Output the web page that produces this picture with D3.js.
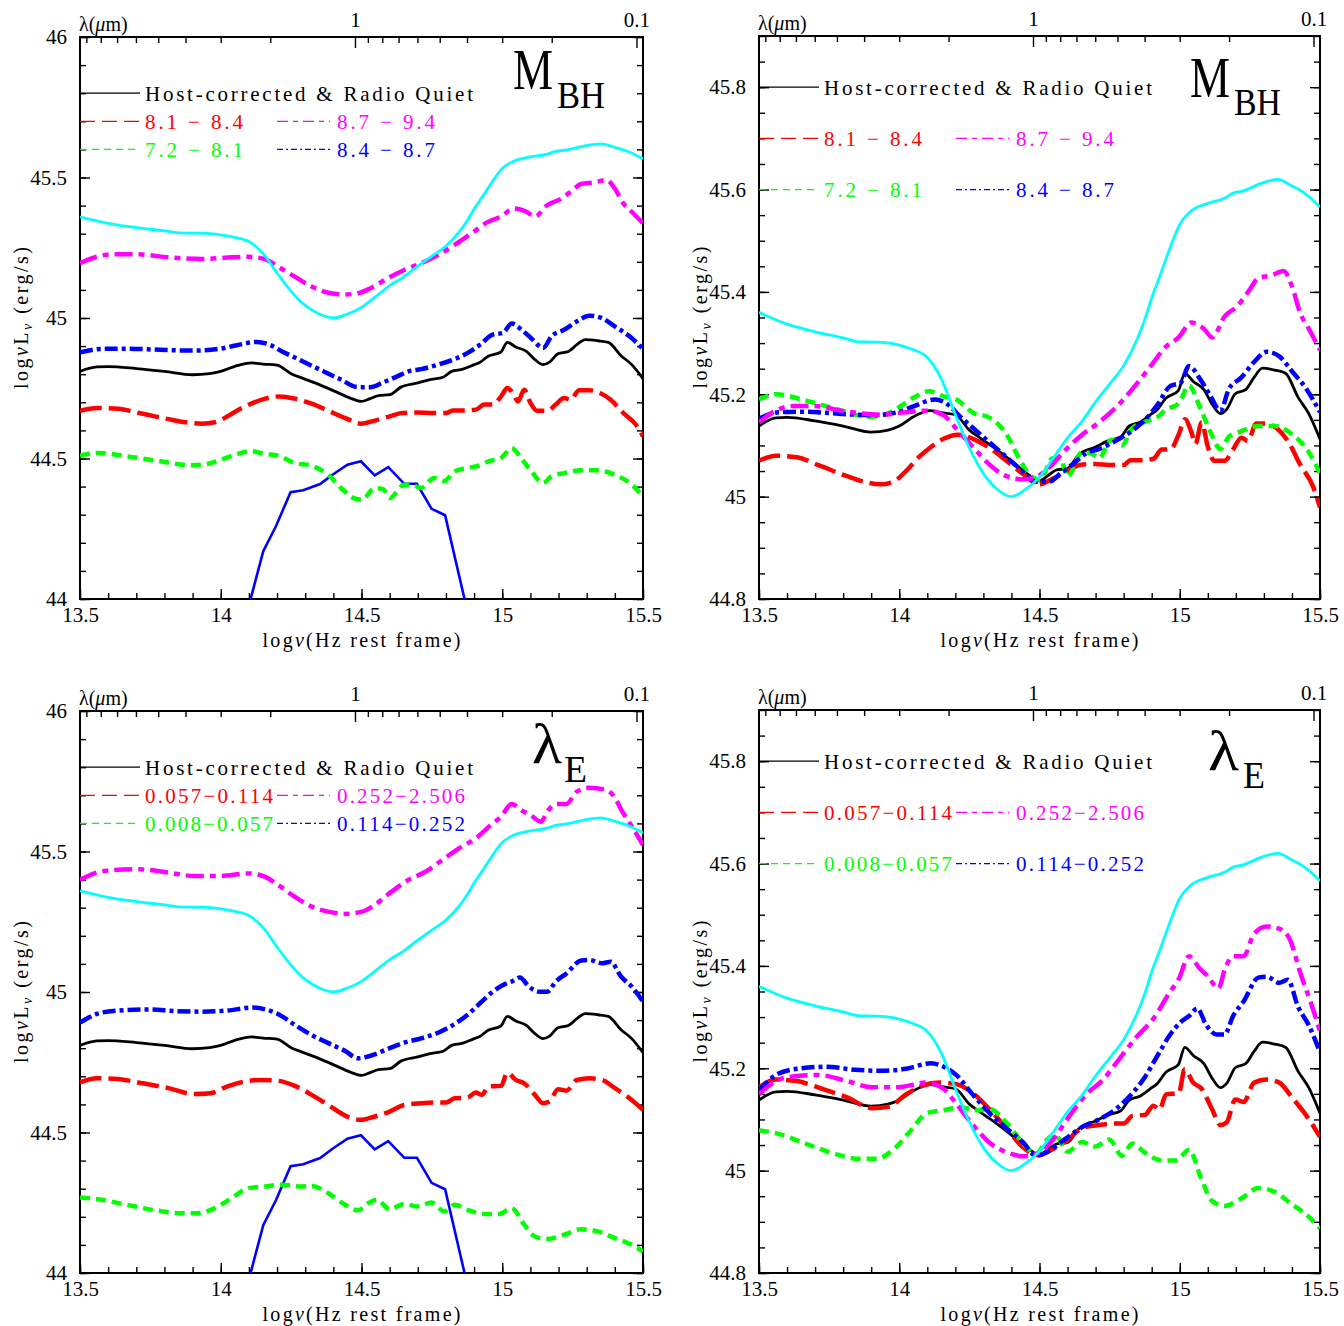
<!DOCTYPE html>
<html>
<head>
<meta charset="utf-8">
<script src="https://cdn.jsdelivr.net/npm/d3@7"></script>
<style>
body { margin: 0; background: #fff; }
svg { display: block; }
</style>
</head>
<body>
<svg id="chart" width="1344" height="1326"></svg>
<script>
const svg = d3.select('#chart')
const serif = '"Liberation Serif", "DejaVu Serif", serif'

// ---- ticks and labels
const xTicks = [13.5, 14, 14.5, 15, 15.5]
const lamMajor = [1, 0.1]
const lamMinor = [9, 8, 7, 6, 5, 4, 3, 2, 0.9, 0.8, 0.7, 0.6, 0.5, 0.4, 0.3, 0.2]
const yTicksAbs = [44, 44.5, 45, 45.5, 46]
const yTicksNorm = [44.8, 45, 45.2, 45.4, 45.6, 45.8]
const legendRows = [45.8, 45.7, 45.6]

const rqLabel = 'Host-corrected & Radio Quiet'
const mbhLabels = ['8.1 − 8.4', '8.7 − 9.4', '7.2 − 8.1', '8.4 − 8.7']
const leLabels = ['0.057−0.114', '0.252−2.506', '0.008−0.057', '0.114−0.252']

// ---- curves, [log nu, log nuLnu]
const cyanSED = [[13.5,45.36],[13.6,45.337],[13.7,45.322],[13.8,45.31],[13.85,45.303],[13.9,45.302],[13.95,45.301],
  [14.0,45.296],[14.05,45.287],[14.1,45.272],[14.15,45.23],[14.2,45.16],[14.25,45.095],[14.3,45.045],[14.35,45.014],
  [14.4,45.0],[14.45,45.014],[14.5,45.038],[14.55,45.076],[14.6,45.115],[14.65,45.146],[14.7,45.185],[14.75,45.22],
  [14.8,45.256],[14.85,45.31],[14.875,45.345],[14.9,45.388],[14.93,45.432],[14.96,45.478],[15.0,45.532],[15.04,45.558],
  [15.1,45.573],[15.16,45.583],[15.19,45.593],[15.23,45.598],[15.29,45.612],[15.35,45.62],[15.4,45.607],[15.44,45.595],[15.5,45.566]]

const hostTemplate = [[14.106,44.0],[14.151,44.17],[14.196,44.259],[14.248,44.38],[14.293,44.387],[14.353,44.409],
  [14.397,44.442],[14.45,44.478],[14.498,44.49],[14.547,44.44],[14.595,44.469],[14.652,44.41],[14.697,44.41],
  [14.749,44.321],[14.797,44.298],[14.866,44.0]]

const rqMean = [[13.5,44.81],[13.56,44.826],[13.6,44.827],[13.7,44.82],[13.8,44.81],[13.9,44.798],[13.96,44.802],
  [14.0,44.81],[14.05,44.828],[14.11,44.84],[14.15,44.836],[14.2,44.832],[14.25,44.802],[14.29,44.786],[14.35,44.763],
  [14.41,44.737],[14.46,44.715],[14.5,44.703],[14.53,44.713],[14.56,44.724],[14.6,44.727],[14.64,44.754],[14.7,44.769],
  [14.74,44.78],[14.79,44.789],[14.82,44.81],[14.86,44.818],[14.9,44.834],[14.92,44.842],[14.95,44.864],[14.995,44.879],
  [15.018,44.913],[15.048,44.897],[15.086,44.881],[15.116,44.852],[15.145,44.834],[15.168,44.843],[15.198,44.873],
  [15.235,44.881],[15.265,44.905],[15.295,44.923],[15.34,44.919],[15.377,44.913],[15.422,44.866],[15.46,44.834],[15.5,44.784]]

// M_BH bins
const mbhRed = [[13.5,44.67],[13.56,44.68],[13.635,44.677],[13.71,44.662],[13.814,44.64],[13.874,44.629],[13.934,44.624],
  [13.979,44.629],[14.024,44.65],[14.068,44.676],[14.113,44.697],[14.158,44.713],[14.21,44.721],[14.263,44.713],
  [14.323,44.695],[14.382,44.67],[14.442,44.644],[14.498,44.624],[14.547,44.635],[14.6,44.65],[14.644,44.662],
  [14.697,44.664],[14.757,44.662],[14.801,44.662],[14.824,44.671],[14.861,44.671],[14.906,44.674],[14.936,44.692],
  [14.966,44.692],[14.996,44.721],[15.018,44.751],[15.041,44.727],[15.056,44.703],[15.078,44.745],[15.1,44.698],
  [15.123,44.67],[15.16,44.67],[15.19,44.692],[15.22,44.715],[15.243,44.709],[15.273,44.743],[15.31,44.743],
  [15.347,44.733],[15.385,44.709],[15.43,44.662],[15.475,44.62],[15.5,44.579]]
const mbhMagenta = [[13.5,45.195],[13.56,45.218],[13.62,45.227],[13.695,45.227],[13.814,45.216],[13.934,45.21],
  [14.024,45.215],[14.098,45.218],[14.158,45.209],[14.203,45.183],[14.263,45.147],[14.323,45.112],[14.382,45.09],
  [14.442,45.084],[14.487,45.088],[14.532,45.106],[14.592,45.141],[14.652,45.171],[14.712,45.195],[14.772,45.224],
  [14.831,45.26],[14.891,45.301],[14.951,45.343],[14.996,45.361],[15.041,45.39],[15.086,45.378],[15.116,45.361],
  [15.16,45.402],[15.205,45.422],[15.25,45.455],[15.28,45.477],[15.325,45.482],[15.37,45.491],[15.4,45.461],
  [15.43,45.408],[15.46,45.378],[15.5,45.337]]
const mbhGreen = [[13.5,44.51],[13.56,44.52],[13.665,44.508],[13.784,44.49],[13.889,44.476],[13.934,44.478],
  [13.994,44.493],[14.053,44.514],[14.106,44.526],[14.158,44.516],[14.203,44.51],[14.263,44.484],[14.323,44.474],
  [14.382,44.442],[14.427,44.395],[14.472,44.359],[14.502,44.353],[14.547,44.395],[14.577,44.391],[14.6,44.359],
  [14.652,44.407],[14.689,44.403],[14.712,44.395],[14.757,44.431],[14.794,44.42],[14.831,44.454],[14.876,44.466],
  [14.921,44.476],[14.951,44.49],[14.996,44.502],[15.033,44.537],[15.071,44.496],[15.108,44.448],[15.145,44.413],
  [15.175,44.437],[15.22,44.448],[15.28,44.458],[15.34,44.458],[15.4,44.442],[15.46,44.407],[15.5,44.365]]
const mbhBlue = [[13.5,44.878],[13.575,44.89],[13.665,44.891],[13.784,44.887],[13.904,44.884],[13.994,44.89],
  [14.053,44.902],[14.128,44.915],[14.173,44.905],[14.218,44.881],[14.278,44.852],[14.353,44.816],[14.427,44.781],
  [14.487,44.754],[14.532,44.754],[14.577,44.771],[14.622,44.79],[14.667,44.81],[14.712,44.818],[14.772,44.834],
  [14.831,44.854],[14.876,44.875],[14.921,44.905],[14.966,44.941],[15.003,44.947],[15.033,44.98],[15.071,44.956],
  [15.108,44.923],[15.145,44.893],[15.175,44.935],[15.22,44.958],[15.265,44.988],[15.31,45.008],[15.355,44.999],
  [15.4,44.97],[15.452,44.935],[15.5,44.89]]

// lambda_E bins
const leRed = [[13.5,44.678],[13.56,44.693],[13.635,44.69],[13.724,44.675],[13.814,44.658],[13.904,44.637],
  [13.964,44.64],[14.024,44.664],[14.083,44.681],[14.143,44.687],[14.203,44.684],[14.263,44.666],[14.323,44.634],
  [14.382,44.598],[14.442,44.56],[14.498,44.545],[14.547,44.557],[14.592,44.571],[14.652,44.598],[14.712,44.604],
  [14.772,44.607],[14.801,44.607],[14.831,44.622],[14.876,44.624],[14.906,44.642],[14.928,44.634],[14.951,44.664],
  [14.996,44.666],[15.018,44.713],[15.048,44.687],[15.078,44.675],[15.116,44.634],[15.145,44.604],[15.168,44.61],
  [15.198,44.654],[15.228,44.649],[15.265,44.687],[15.31,44.693],[15.355,44.687],[15.4,44.658],[15.452,44.622],[15.5,44.581]]
const leMagenta = [[13.5,45.399],[13.56,45.425],[13.62,45.434],[13.71,45.437],[13.814,45.425],[13.904,45.413],
  [13.994,45.413],[14.098,45.422],[14.158,45.41],[14.203,45.381],[14.263,45.339],[14.323,45.304],[14.382,45.286],
  [14.442,45.278],[14.502,45.286],[14.547,45.31],[14.607,45.357],[14.667,45.399],[14.727,45.428],[14.787,45.47],
  [14.846,45.511],[14.906,45.547],[14.966,45.6],[14.996,45.624],[15.033,45.669],[15.071,45.645],[15.1,45.63],
  [15.138,45.606],[15.16,45.642],[15.19,45.669],[15.228,45.669],[15.265,45.713],[15.31,45.727],[15.362,45.721],
  [15.393,45.701],[15.43,45.636],[15.468,45.577],[15.5,45.523]]
const leGreen = [[13.5,44.269],[13.575,44.261],[13.665,44.243],[13.769,44.223],[13.859,44.213],[13.919,44.213],
  [13.979,44.231],[14.039,44.267],[14.098,44.302],[14.158,44.308],[14.218,44.314],[14.278,44.308],[14.323,44.31],
  [14.382,44.284],[14.442,44.243],[14.487,44.223],[14.525,44.249],[14.555,44.261],[14.6,44.227],[14.652,44.246],
  [14.697,44.237],[14.749,44.251],[14.794,44.219],[14.831,44.243],[14.876,44.225],[14.936,44.21],[14.988,44.21],
  [15.033,44.231],[15.078,44.172],[15.116,44.13],[15.16,44.121],[15.22,44.136],[15.28,44.156],[15.34,44.148],
  [15.4,44.124],[15.452,44.104],[15.5,44.077]]
const leBlue = [[13.5,44.891],[13.56,44.922],[13.635,44.934],[13.74,44.938],[13.844,44.932],[13.934,44.93],
  [14.024,44.934],[14.113,44.945],[14.158,44.938],[14.203,44.922],[14.263,44.883],[14.323,44.847],[14.382,44.818],
  [14.442,44.79],[14.487,44.764],[14.532,44.773],[14.592,44.797],[14.652,44.82],[14.712,44.835],[14.772,44.855],
  [14.831,44.886],[14.876,44.918],[14.921,44.96],[14.966,45.001],[15.003,45.025],[15.033,45.037],[15.063,45.052],
  [15.093,45.021],[15.131,45.001],[15.16,45.001],[15.19,45.037],[15.228,45.066],[15.28,45.112],[15.31,45.114],
  [15.355,45.102],[15.385,45.108],[15.422,45.055],[15.46,45.019],[15.5,44.966]]

// offsets that bring each curve onto the reference SED at log nu = 14.5 (right-hand panels)
const rqShift = 0.328
const mbhShift = [0.40, -0.05, 0.68, 0.275]
const leShift = [0.485, -0.25, 0.81, 0.265]

// ---- styles: red, magenta, green, blue
const binColor = ['#ff0000', '#ff00ff', '#00ff00', '#0000ff']
const binDash = ['22,7', '18,6,6,6', '10,6', '13,4,4,4']
const legDash = ['15,7', '11,5,5,5', '7,5', '6,3,2,3']

const logC = Math.log10(2.998e14) // micron/s
const lamOf = nu => Math.pow(10, logC - nu)

const panels = [
  {id: 'a', left: 80, right: 643, top: 37, bottom: 599, ydom: [44, 46], yt: yTicksAbs, ymin: 0.1,
   bins: [mbhRed, mbhMagenta, mbhGreen, mbhBlue], labels: mbhLabels, shift: null, labW: 98,
   big: ['M', 'BH'], bigPos: [433, 52, 477, 71], bigW: [40, 48]},
  {id: 'b', left: 759, right: 1320, top: 36, bottom: 599, ydom: [44.8, 45.9], yt: yTicksNorm, ymin: 0.05,
   bins: [mbhRed, mbhMagenta, mbhGreen, mbhBlue], labels: mbhLabels, shift: mbhShift, labW: 98,
   big: ['M', 'BH'], bigPos: [431, 61, 475, 79], bigW: [40, 47]},
  {id: 'c', left: 80, right: 643, top: 711, bottom: 1273, ydom: [44, 46], yt: yTicksAbs, ymin: 0.1,
   bins: [leRed, leMagenta, leGreen, leBlue], labels: leLabels, shift: null, labW: 128,
   big: ['λ', 'E'], bigPos: [452, 52, 484, 71], bigW: [30, 23]},
  {id: 'd', left: 759, right: 1320, top: 710, bottom: 1273, ydom: [44.8, 45.9], yt: yTicksNorm, ymin: 0.05,
   bins: [leRed, leMagenta, leGreen, leBlue], labels: leLabels, shift: leShift, labW: 128,
   big: ['λ', 'E'], bigPos: [449, 60, 484, 78], bigW: [31, 22]}
]

function styleAxis(sel) {
  sel.select('.domain').remove()
  sel.selectAll('.tick line').attr('stroke', '#000').attr('stroke-width', 1.4)
  sel.selectAll('.tick text').attr('fill', '#000')
    .attr('font-family', serif).attr('font-size', 21)
}

function drawPanel(p) {
  const x = d3.scaleLinear().domain([13.5, 15.5]).range([p.left, p.right])
  const y = d3.scaleLinear().domain(p.ydom).range([p.bottom, p.top])
  const lam = d3.scaleLog().domain([lamOf(13.5), lamOf(15.5)]).range([p.left, p.right])
  const g = svg.append('g')

  svg.append('clipPath').attr('id', 'clip-' + p.id)
    .append('rect').attr('x', p.left).attr('y', p.top)
    .attr('width', p.right - p.left).attr('height', p.bottom - p.top)

  // bottom axis
  g.append('g').attr('transform', `translate(0,${p.bottom})`)
    .call(d3.axisBottom(x).tickValues(d3.range(13.5, 15.55, 0.1)).tickSizeInner(-6).tickSizeOuter(0).tickFormat(''))
    .call(styleAxis)
  g.append('g').attr('transform', `translate(0,${p.bottom})`)
    .call(d3.axisBottom(x).tickValues(xTicks).tickSizeInner(-10).tickSizeOuter(0).tickPadding(8).tickFormat(d3.format('')))
    .call(styleAxis)

  // top axis in wavelength
  g.append('g').attr('transform', `translate(0,${p.top})`)
    .call(d3.axisTop(lam).tickValues(lamMinor).tickSizeInner(-6).tickSizeOuter(0).tickFormat(''))
    .call(styleAxis)
  g.append('g').attr('transform', `translate(0,${p.top})`)
    .call(d3.axisTop(lam).tickValues(lamMajor).tickSizeInner(-11).tickSizeOuter(0).tickPadding(10).tickFormat(d3.format('')))
    .call(styleAxis)

  // left / right axes
  const minor = d3.range(p.ydom[0], p.ydom[1] + 1e-6, p.ymin)
  g.append('g').attr('transform', `translate(${p.left},0)`)
    .call(d3.axisLeft(y).tickValues(minor).tickSizeInner(-6).tickSizeOuter(0).tickFormat(''))
    .call(styleAxis)
  g.append('g').attr('transform', `translate(${p.left},0)`)
    .call(d3.axisLeft(y).tickValues(p.yt).tickSizeInner(-10).tickSizeOuter(0).tickPadding(13).tickFormat(d3.format('')))
    .call(styleAxis)
  g.append('g').attr('transform', `translate(${p.right},0)`)
    .call(d3.axisRight(y).tickValues(minor).tickSizeInner(-6).tickSizeOuter(0).tickFormat(''))
    .call(styleAxis)
  g.append('g').attr('transform', `translate(${p.right},0)`)
    .call(d3.axisRight(y).tickValues(p.yt).tickSizeInner(-10).tickSizeOuter(0).tickFormat(''))
    .call(styleAxis)

  g.append('rect')
    .attr('x', p.left).attr('y', p.top)
    .attr('width', p.right - p.left).attr('height', p.bottom - p.top)
    .attr('fill', 'none').attr('stroke', '#000').attr('stroke-width', 2)

  // axis titles
  const lt = g.append('text')
    .attr('x', p.left - 1).attr('y', p.top - 6)
    .attr('font-family', serif).attr('font-size', 20)
  lt.append('tspan').text('λ(')
  lt.append('tspan').attr('font-style', 'italic').text('μ')
  lt.append('tspan').text('m)')

  const xt = g.append('text')
    .attr('x', (p.left + p.right) / 2).attr('y', p.bottom + 48)
    .attr('text-anchor', 'middle')
    .attr('font-family', serif).attr('font-size', 20)
    .attr('textLength', 198).attr('lengthAdjust', 'spacing')
  xt.append('tspan').text('log')
  xt.append('tspan').attr('font-style', 'italic').text('ν')
  xt.append('tspan').text('(Hz rest frame)')

  const yt = g.append('text')
    .attr('transform', `translate(${p.left - 52},${(p.top + p.bottom) / 2}) rotate(-90)`)
    .attr('text-anchor', 'middle')
    .attr('font-family', serif).attr('font-size', 20)
    .attr('textLength', 142).attr('lengthAdjust', 'spacing')
  yt.append('tspan').text('log')
  yt.append('tspan').attr('font-style', 'italic').text('ν')
  yt.append('tspan').text('L')
  yt.append('tspan').attr('font-style', 'italic').attr('font-size', 14).attr('dy', 4).text('ν')
  yt.append('tspan').attr('dy', -4).text('  (erg/s)')

  // curves
  const plot = g.append('g').attr('clip-path', `url(#clip-${p.id})`)
  const line = k => d3.line().x(d => x(d[0])).y(d => y(d[1] + k)).curve(d3.curveMonotoneX)

  if (!p.shift) {
    plot.append('path').datum(hostTemplate)
      .attr('d', d3.line().x(d => x(d[0])).y(d => y(d[1])))
      .attr('fill', 'none').attr('stroke', '#0000ff').attr('stroke-width', 2.6)
  }
  plot.append('path').datum(rqMean)
    .attr('d', line(p.shift ? rqShift : 0))
    .attr('fill', 'none').attr('stroke', '#000').attr('stroke-width', 2.8)

  const order = [0, 2, 3, 1]
  order.forEach(i => {
    plot.append('path').datum(p.bins[i])
      .attr('d', line(p.shift ? p.shift[i] : 0))
      .attr('fill', 'none').attr('stroke', binColor[i]).attr('stroke-width', 4.5)
      .attr('stroke-dasharray', binDash[i])
  })

  plot.append('path').datum(cyanSED)
    .attr('d', line(0))
    .attr('fill', 'none').attr('stroke', '#00ffff').attr('stroke-width', 2.8)

  // legend
  const ly = legendRows.map(v => y(v))
  g.append('line').attr('x1', p.left).attr('x2', p.left + 60).attr('y1', ly[0]).attr('y2', ly[0])
    .attr('stroke', '#000').attr('stroke-width', 1.3)
  g.append('text').attr('x', p.left + 65).attr('y', ly[0] + 7.5)
    .attr('font-family', serif).attr('font-size', 21)
    .attr('textLength', 328).attr('lengthAdjust', 'spacing')
    .text(rqLabel)

  p.labels.forEach((lab, i) => {
    const row = ly[1 + Math.floor(i / 2)]
    const col = i % 2
    const lx0 = col ? p.left + 197 : p.left
    const lx1 = col ? p.left + 250 : p.left + 59
    g.append('line').attr('x1', lx0).attr('x2', lx1).attr('y1', row).attr('y2', row)
      .attr('stroke', binColor[i]).attr('stroke-width', 1.3)
      .attr('stroke-dasharray', legDash[i])
    g.append('text').attr('x', col ? p.left + 257 : p.left + 65).attr('y', row + 7.5)
      .attr('font-family', serif).attr('font-size', 21).attr('fill', binColor[i])
      .attr('textLength', p.labW).attr('lengthAdjust', 'spacing')
      .text(lab)
  })

  // panel tag
  const b = p.bigPos
  g.append('text').attr('x', p.left + b[0]).attr('y', p.top + b[1])
    .attr('font-family', serif).attr('font-size', 56)
    .attr('textLength', p.bigW[0]).attr('lengthAdjust', 'spacingAndGlyphs')
    .text(p.big[0])
  g.append('text').attr('x', p.left + b[2]).attr('y', p.top + b[3])
    .attr('font-family', serif).attr('font-size', 37)
    .attr('textLength', p.bigW[1]).attr('lengthAdjust', 'spacingAndGlyphs')
    .text(p.big[1])
}

panels.forEach(drawPanel)
</script>
</body>
</html>
